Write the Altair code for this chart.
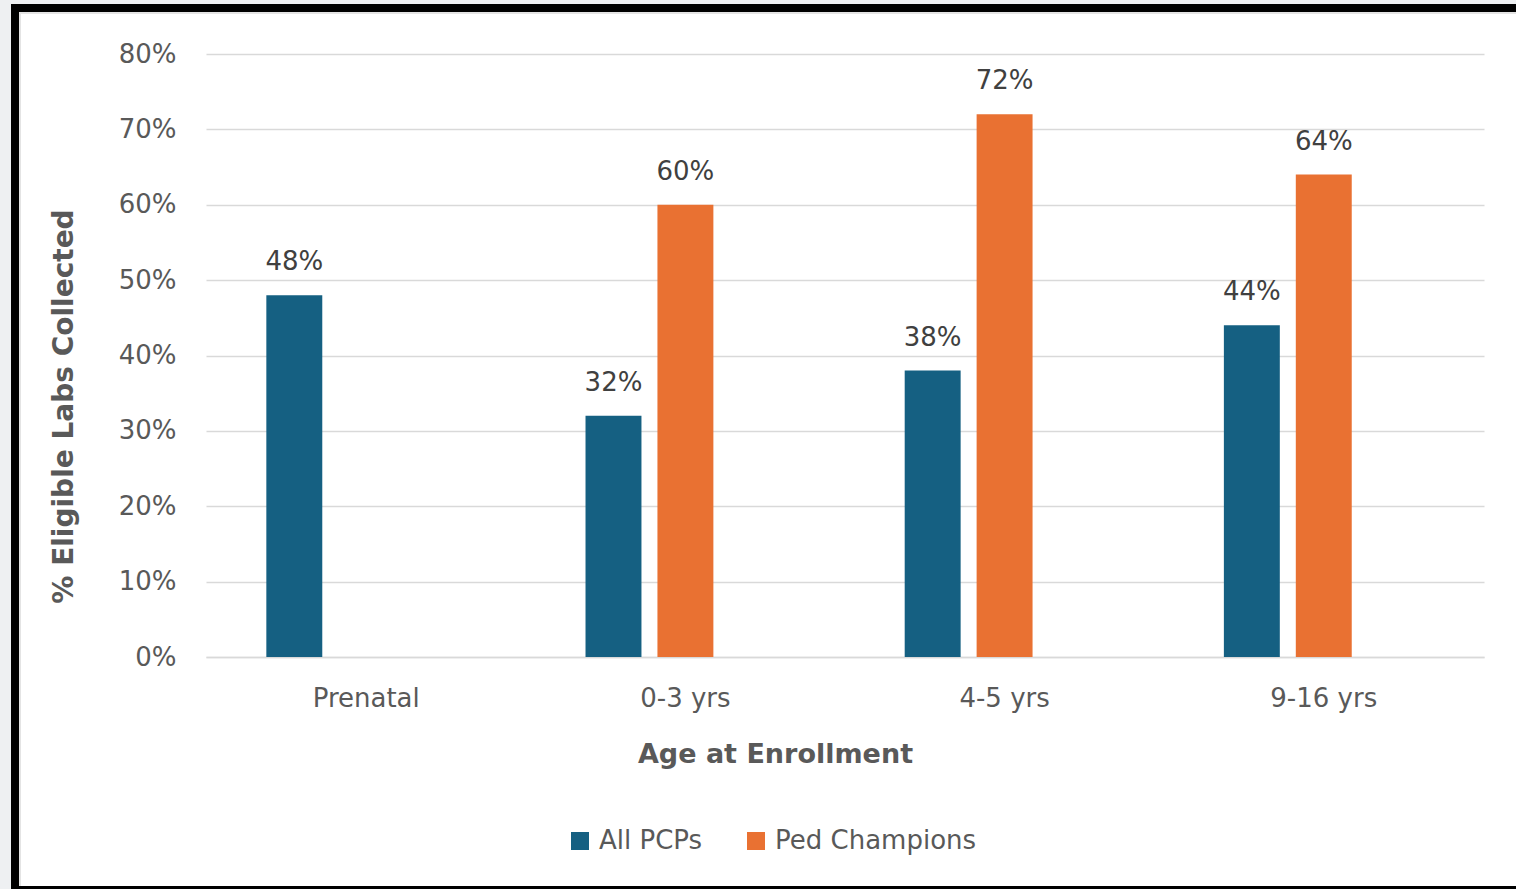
import altair as alt
import pandas as pd

# ---- data ----
categories = ["Prenatal", "0-3 yrs", "4-5 yrs", "9-16 yrs"]
series = ["All PCPs", "Ped Champions"]
all_pcps = [0.48, 0.32, 0.38, 0.44]
ped_champions = [None, 0.60, 0.72, 0.64]
y_ticks = [0.0, 0.1, 0.2, 0.3, 0.4, 0.5, 0.6, 0.7, 0.8]
colors = ["#156082", "#E97132"]

rows = []
for cat, a, p in zip(categories, all_pcps, ped_champions):
    if a is not None:
        rows.append({"Age": cat, "Group": series[0], "Value": a})
    if p is not None:
        rows.append({"Age": cat, "Group": series[1], "Value": p})
df = pd.DataFrame(rows)

FONT = "DejaVu Sans"
W, H = 1278, 603
PAD = {"left": 206, "top": 54, "right": 32, "bottom": 232}

x_enc = alt.X(
    "Age:N",
    sort=categories,
    scale=alt.Scale(paddingInner=0.324, paddingOuter=0.164),
    axis=alt.Axis(
        title="Age at Enrollment",
        labelAngle=0,
        labelFontSize=26,
        labelColor="#595959",
        labelFont=FONT,
        labelBaseline="middle",
        labelPadding=41,
        ticks=False,
        grid=False,
        domainColor="#D9D9D9",
        domainWidth=1.5,
        titleFont=FONT,
        titleFontSize=27,
        titleFontWeight="bold",
        titleColor="#595959",
        titleX=569,
        titleY=97,
        titleAlign="center",
        titleBaseline="middle",
    ),
)
xoff_enc = alt.XOffset(
    "Group:N",
    scale=alt.Scale(domain=series + ["_"], paddingInner=0.2222, paddingOuter=0.1111),
)
y_enc = alt.Y(
    "Value:Q",
    scale=alt.Scale(domain=[0, 0.8], nice=False),
    axis=alt.Axis(
        values=y_ticks,
        format=".0%",
        labelFontSize=26,
        labelColor="#595959",
        labelFont=FONT,
        labelPadding=30,
        ticks=False,
        domain=False,
        gridColor="#D9D9D9",
        gridWidth=1.5,
        title="% Eligible Labs Collected",
        titleFont=FONT,
        titleFontSize=28,
        titleFontWeight="bold",
        titleColor="#595959",
        titleAngle=270,
        titleX=-142,
        titleY=352,
        titleAlign="center",
        titleBaseline="middle",
    ),
)

bars = alt.Chart(df).mark_bar().encode(
    x=x_enc,
    xOffset=xoff_enc,
    y=y_enc,
    color=alt.Color(
        "Group:N",
        scale=alt.Scale(domain=series, range=colors),
        legend=alt.Legend(
            orient="none",
            legendX=361,
            legendY=774,
            direction="horizontal",
            title=None,
            symbolType="square",
            symbolSize=324,
            symbolStrokeWidth=0,
            labelFontSize=26,
            labelFont=FONT,
            labelColor="#595959",
            labelOffset=6,
            labelLimit=0,
            columnPadding=40,
            padding=0,
        ),
    ),
)

labels = alt.Chart(df).mark_text(
    baseline="alphabetic", dy=-25, fontSize=26, color="#404040", font=FONT
).encode(
    x=x_enc,
    xOffset=xoff_enc,
    y=y_enc,
    text=alt.Text("Value:Q", format=".0%"),
)

# ---- decorative frame around the chart ----
frame_df = pd.DataFrame({"k": [0]})


def frame_rect(x1, x2, y1, y2, col):
    return alt.Chart(frame_df).mark_rect(color=col).encode(
        x=alt.value(x1), x2=alt.value(x2), y=alt.value(y1), y2=alt.value(y2)
    )


frame = [
    frame_rect(-206, -195, -54, 835, "#EEF0F2"),
    frame_rect(-206, 1310, -54, -50, "#EEF0F2"),
    frame_rect(-195, -187, -50, 835, "#000000"),
    frame_rect(-195, 1310, -50, -42, "#000000"),
    frame_rect(-187, 1310, 832, 835, "#000000"),
    frame_rect(-187, -185, -42, 832, "#E4E4E4"),
    frame_rect(-185, 1310, -42, -40, "#E4E4E4"),
]

chart = alt.layer(bars, labels, *frame).properties(
    width=W,
    height=H,
    padding=PAD,
    autosize=alt.AutoSizeParams(type="none"),
    background="#FFFFFF",
).configure(font=FONT).configure_view(stroke=None)

chart.save("out.html", embed_options={"renderer": "svg", "actions": False})
